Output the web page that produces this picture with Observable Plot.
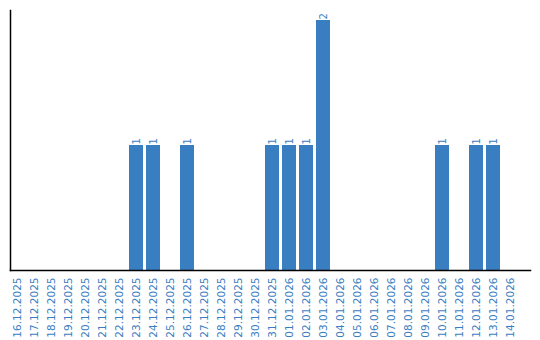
<!DOCTYPE html>
<html>
<head>
<meta charset="utf-8">
<script src="https://cdn.jsdelivr.net/npm/d3@7"></script>
<script src="https://cdn.jsdelivr.net/npm/@observablehq/plot@0.6"></script>
<style>
  html, body { margin: 0; padding: 0; background: #fff; }
  #chart svg { display: block; }
</style>
</head>
<body>
<div id="chart"></div>
<script>
const dates = [
  "16.12.2025","17.12.2025","18.12.2025","19.12.2025","20.12.2025","21.12.2025",
  "22.12.2025","23.12.2025","24.12.2025","25.12.2025","26.12.2025","27.12.2025",
  "28.12.2025","29.12.2025","30.12.2025","31.12.2025","01.01.2026","02.01.2026",
  "03.01.2026","04.01.2026","05.01.2026","06.01.2026","07.01.2026","08.01.2026",
  "09.01.2026","10.01.2026","11.01.2026","12.01.2026","13.01.2026","14.01.2026"
];
const counts = [
  0,0,0,0,0,0,
  0,1,1,0,1,0,
  0,0,0,1,1,1,
  2,0,0,0,0,0,
  0,1,0,1,1,0
];
const yDomain = [0, 2.08];

const data = dates.map((d, i) => ({date: d, count: counts[i]}));
const nonZero = data.filter(d => d.count > 0);
const blue = "#3a7ec2";

const chart = Plot.plot({
  width: 540,
  height: 340,
  marginLeft: 10,
  marginRight: 10,
  marginTop: 10,
  marginBottom: 70,
  style: {fontFamily: "DejaVu Sans, Verdana, sans-serif", background: "#fff"},
  x: {domain: dates, paddingInner: 0.176, paddingOuter: 0.382, align: 0},
  y: {domain: yDomain, axis: null},
  marks: [
    Plot.barY(nonZero, {x: "date", y: "count", fill: blue}),
    Plot.text(nonZero, {x: "date", y: "count", text: d => String(d.count), rotate: -90,
      textAnchor: "start", dy: -1, fill: blue, fontSize: 10}),
    Plot.axisX({tickSize: 0, tickPadding: 7, tickRotate: -90, fill: blue, fontSize: 10.5, label: null}),
    Plot.frame({anchor: "left", stroke: "#000", strokeWidth: 1.5}),
    Plot.frame({anchor: "bottom", stroke: "#000", strokeWidth: 1.5})
  ]
});
document.getElementById("chart").appendChild(chart);
</script>
</body>
</html>
